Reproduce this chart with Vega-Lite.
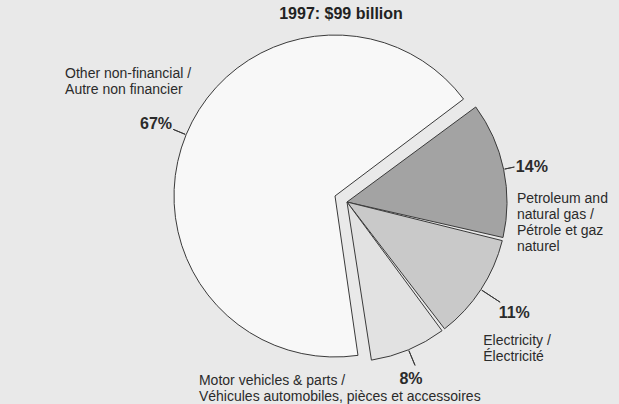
{
  "$schema": "https://vega.github.io/schema/vega-lite/v6.json",
  "width": 682,
  "height": 320,
  "autosize": {"type": "none"},
  "padding": {"left": 0, "top": 39, "right": 0, "bottom": 45},
  "background": "#e9e9e9",
  "config": {"view": {"stroke": null}},
  "title": {
    "text": "1997: $99 billion",
    "font": "Liberation Sans",
    "fontSize": 16,
    "fontWeight": "bold",
    "color": "#222222",
    "anchor": "middle",
    "offset": 11
  },
  "data": {
    "values": [
      {"sector": "Petroleum and natural gas", "pct": "14%", "value": 14, "ord": 1, "label": "Petroleum and\nnatural gas /\nPétrole et gaz\nnaturel"},
      {"sector": "Electricity", "pct": "11%", "value": 11, "ord": 2, "label": "Electricity /\nÉlectricité"},
      {"sector": "Motor vehicles & parts", "pct": "8%", "value": 8, "ord": 3, "label": "Motor vehicles & parts /\nVéhicules automobiles, pièces et accessoires"},
      {"sector": "Other non-financial", "pct": "67%", "value": 67, "ord": 4, "label": "Other non-financial /\nAutre non financier"}
    ]
  },
  "resolve": {"scale": {"theta": "independent"}},
  "layer": [
    {
      "encoding": {
        "theta": {"field": "value", "type": "quantitative", "stack": true, "scale": {"range": [0.925, 7.208]}},
        "order": {"field": "ord", "type": "quantitative"},
        "detail": {"field": "sector", "type": "nominal"}
      },
      "layer": [
        {
          "mark": {"type": "arc", "outerRadius": 160, "padAngle": 0.02, "stroke": "#3a3a3a", "strokeWidth": 1, "xOffset": 6, "yOffset": 3},
          "encoding": {
            "color": {"field": "sector", "type": "nominal", "legend": null,
              "scale": {"domain": ["Petroleum and natural gas", "Electricity", "Motor vehicles & parts", "Other non-financial"],
                        "range": ["#a3a3a3", "#c9c9c9", "#e2e2e2", "#f8f8f8"]}},
            "fillOpacity": {"condition": {"test": "datum.sector === 'Other non-financial'", "value": 0}, "value": 1},
            "strokeOpacity": {"condition": {"test": "datum.sector === 'Other non-financial'", "value": 0}, "value": 1}
          }
        },
        {
          "mark": {"type": "arc", "outerRadius": 161, "stroke": "#3a3a3a", "strokeWidth": 1, "fill": "#f8f8f8", "xOffset": -6, "yOffset": -3},
          "encoding": {
            "fillOpacity": {"condition": {"test": "datum.sector === 'Other non-financial'", "value": 1}, "value": 0},
            "strokeOpacity": {"condition": {"test": "datum.sector === 'Other non-financial'", "value": 1}, "value": 0}
          }
        },
        {
          "mark": {"type": "arc", "innerRadius": 161, "outerRadius": 171, "padAngle": 3, "fill": "transparent", "stroke": "#3a3a3a", "strokeWidth": 1, "xOffset": 6, "yOffset": 3},
          "encoding": {"strokeOpacity": {"condition": {"test": "datum.sector === 'Petroleum and natural gas'", "value": 1}, "value": 0}}
        },
        {
          "mark": {"type": "arc", "innerRadius": 161, "outerRadius": 183, "padAngle": 3, "fill": "transparent", "stroke": "#3a3a3a", "strokeWidth": 1, "xOffset": 6, "yOffset": 3},
          "encoding": {"strokeOpacity": {"condition": {"test": "datum.sector === 'Electricity'", "value": 1}, "value": 0}}
        },
        {
          "mark": {"type": "arc", "innerRadius": 161, "outerRadius": 177, "padAngle": 3, "fill": "transparent", "stroke": "#3a3a3a", "strokeWidth": 1, "xOffset": 6, "yOffset": 3},
          "encoding": {"strokeOpacity": {"condition": {"test": "datum.sector === 'Motor vehicles & parts'", "value": 1}, "value": 0}}
        },
        {
          "mark": {"type": "text", "radius": 200, "dy": 1, "font": "Liberation Sans", "fontSize": 16, "fontWeight": "bold", "color": "#2b2b2b", "align": "center", "baseline": "middle"},
          "encoding": {"text": {"condition": {"test": "datum.sector === 'Other non-financial'", "field": "pct"}, "value": ""}}
        },
        {
          "mark": {"type": "text", "radius": 195, "dy": 8, "font": "Liberation Sans", "fontSize": 16, "fontWeight": "bold", "color": "#2b2b2b", "align": "center", "baseline": "middle"},
          "encoding": {"text": {"condition": {"test": "datum.sector === 'Petroleum and natural gas'", "field": "pct"}, "value": ""}}
        },
        {
          "mark": {"type": "text", "radius": 207, "dy": 1, "font": "Liberation Sans", "fontSize": 16, "fontWeight": "bold", "color": "#2b2b2b", "align": "center", "baseline": "middle"},
          "encoding": {"text": {"condition": {"test": "datum.sector === 'Electricity'", "field": "pct"}, "value": ""}}
        },
        {
          "mark": {"type": "text", "radius": 195, "dx": -5, "font": "Liberation Sans", "fontSize": 16, "fontWeight": "bold", "color": "#2b2b2b", "align": "center", "baseline": "middle"},
          "encoding": {"text": {"condition": {"test": "datum.sector === 'Motor vehicles & parts'", "field": "pct"}, "value": ""}}
        },
        {
          "mark": {"type": "text", "radius": 200, "dx": -91, "dy": -45, "font": "Liberation Sans", "fontSize": 14, "lineHeight": 16, "lineBreak": "\n", "color": "#2b2b2b", "align": "left", "baseline": "alphabetic"},
          "encoding": {"text": {"condition": {"test": "datum.sector === 'Other non-financial'", "field": "label"}, "value": ""}}
        },
        {
          "mark": {"type": "text", "radius": 195, "dx": -15, "dy": 44, "font": "Liberation Sans", "fontSize": 14, "lineHeight": 16, "lineBreak": "\n", "color": "#2b2b2b", "align": "left", "baseline": "alphabetic"},
          "encoding": {"text": {"condition": {"test": "datum.sector === 'Petroleum and natural gas'", "field": "label"}, "value": ""}}
        },
        {
          "mark": {"type": "text", "radius": 207, "dx": -31, "dy": 33, "font": "Liberation Sans", "fontSize": 14, "lineHeight": 16, "lineBreak": "\n", "color": "#2b2b2b", "align": "left", "baseline": "alphabetic"},
          "encoding": {"text": {"condition": {"test": "datum.sector === 'Electricity'", "field": "label"}, "value": ""}}
        },
        {
          "mark": {"type": "text", "radius": 195, "dx": -217, "dy": 6, "font": "Liberation Sans", "fontSize": 14, "lineHeight": 16, "lineBreak": "\n", "color": "#2b2b2b", "align": "left", "baseline": "alphabetic"},
          "encoding": {"text": {"condition": {"test": "datum.sector === 'Motor vehicles & parts'", "field": "label"}, "value": ""}}
        }
      ]
    },
    {
      "mark": {"type": "arc", "innerRadius": 162, "outerRadius": 175, "padAngle": 3, "fill": "transparent", "stroke": "#3a3a3a", "strokeWidth": 1, "xOffset": -6, "yOffset": -3},
      "encoding": {
        "theta": {"field": "value", "type": "quantitative", "stack": true, "scale": {"range": [4.438, 5.438]}},
        "order": {"field": "ord", "type": "quantitative"},
        "detail": {"field": "sector", "type": "nominal"},
        "strokeOpacity": {"condition": {"test": "datum.sector === 'Other non-financial'", "value": 1}, "value": 0}
      }
    }
  ]
}
